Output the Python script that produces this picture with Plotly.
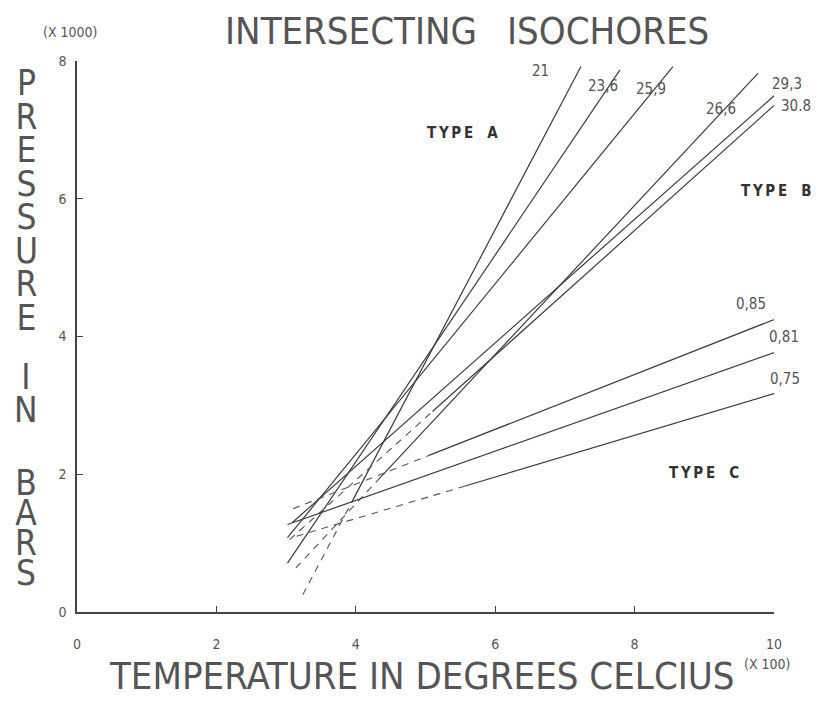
import plotly.graph_objects as go

# ---------------- data ----------------
# temperature in units of 100 degC, pressure in units of 1000 bar
isochore_labels = ["21", "23,6", "25,9", "26,6", "29,3", "30.8", "0,85", "0,81", "0,75"]
# solid part of each isochore (start -> end)
solid_t0 = [3.95, 3.02, 3.02, 4.33, 3.09, 5.10, 5.04, 3.02, 5.57]
solid_p0 = [1.61, 0.71, 1.08, 1.93, 1.30, 2.91, 2.27, 1.27, 1.83]
solid_t1 = [7.23, 7.79, 8.55, 9.77, 10.04, 10.04, 10.01, 10.01, 10.06]
solid_p1 = [7.92, 7.87, 7.92, 7.82, 7.53, 7.39, 4.25, 3.77, 3.19]
# dashed low-temperature extension (ends where the solid part starts)
dash_t0 = [3.24, None, None, 3.14, None, 3.05, 3.10, None, 3.15]
dash_p0 = [0.25, None, None, 0.64, None, 1.05, 1.50, None, 1.10]
# label anchor of each isochore
label_t = [6.65, 7.55, 8.24, 9.24, 10.19, 10.31, 9.67, 10.14, 10.16]
label_p = [7.86, 7.64, 7.60, 7.31, 7.67, 7.34, 4.47, 4.00, 3.38]

type_names = ["TYPE", "TYPE", "TYPE"]
type_letters = ["A", "B", "C"]
type_t = [5.53, 10.03, 9.00]
type_p = [6.96, 6.11, 2.02]

x_ticks = [0, 2, 4, 6, 8, 10]
y_ticks = [0, 2, 4, 6, 8]
x_range = [0, 10]
y_range = [0, 8]

title_words = ["INTERSECTING", "ISOCHORES"]
x_title = "TEMPERATURE IN DEGREES CELCIUS"
y_title_words = ["PRESSURE", "IN", "BARS"]

# ---------------- layout constants (pixels) ----------------
W, H = 818, 703
ML, MR, MT, MB = 77, 44, 61, 91
PW, PH = W - ML - MR, H - MT - MB

def px_to_paper(px, py):
    return (px - ML) / PW, (H - MB - py) / PH

def data_to_paper(t, p):
    return ((t - x_range[0]) / (x_range[1] - x_range[0]),
            (p - y_range[0]) / (y_range[1] - y_range[0]))

LINE_COL = "#3c3c3c"
TEXT_COL = "#555555"
FONT = "DejaVu Sans Condensed, DejaVu Sans, sans-serif"
NB = "\u00a0"
THIN = "\u2009"

fig = go.Figure()

for i, name in enumerate(isochore_labels):
    fig.add_trace(go.Scatter(
        x=[solid_t0[i], solid_t1[i]], y=[solid_p0[i], solid_p1[i]],
        mode="lines", line=dict(color=LINE_COL, width=1.2),
        showlegend=False, hoverinfo="skip", cliponaxis=False))
    if dash_t0[i] is not None:
        fig.add_trace(go.Scatter(
            x=[dash_t0[i], solid_t0[i]], y=[dash_p0[i], solid_p0[i]],
            mode="lines", line=dict(color="#555555", width=1.1, dash="7px,6px"),
            showlegend=False, hoverinfo="skip", cliponaxis=False))

CENTER = dict(xref="paper", yref="paper", showarrow=False,
              xanchor="center", yanchor="middle")

annotations = []
for i, name in enumerate(isochore_labels):
    xp, yp = data_to_paper(label_t[i], label_p[i])
    annotations.append(dict(x=xp, y=yp, text=name,
                            font=dict(family=FONT, size=15, color=TEXT_COL), **CENTER))
for i, name in enumerate(type_names):
    xp, yp = data_to_paper(type_t[i], type_p[i])
    spaced = THIN.join(list(name)) + NB * 3 + type_letters[i]
    annotations.append(dict(x=xp, y=yp, text="<b>" + spaced + "</b>",
                            font=dict(family=FONT, size=15, color="#333333"), **CENTER))

# title words
for word, cx in zip(title_words, [351, 608]):
    xp, yp = px_to_paper(cx, 31)
    annotations.append(dict(x=xp, y=yp, text=word,
                            font=dict(family=FONT, size=38, color=TEXT_COL), **CENTER))

# x-axis title
xp, yp = px_to_paper(422, 676)
annotations.append(dict(x=xp, y=yp, text=x_title,
                        font=dict(family=FONT, size=38, color=TEXT_COL), **CENTER))

# stacked y-axis title: one text per word, letters stacked; the base font
# size sets the line pitch, the inline span sets the glyph size
word_center_y = [200, 394, 528]
word_pitch_font = [25.8, 25.4, 23.2]
for word, cy, pf in zip(y_title_words, word_center_y, word_pitch_font):
    xp, yp = px_to_paper(26, cy)
    stacked = "<br>".join('<span style="font-size:35px">' + ch + "</span>" for ch in word)
    annotations.append(dict(x=xp, y=yp, text=stacked,
                            font=dict(family=FONT, size=pf, color=TEXT_COL), **CENTER))

# multipliers
xp, yp = px_to_paper(70, 32)
annotations.append(dict(x=xp, y=yp, text="(X 1000)",
                        font=dict(family=FONT, size=14, color=TEXT_COL), **CENTER))
xp, yp = px_to_paper(767, 664)
annotations.append(dict(x=xp, y=yp, text="(X 100)",
                        font=dict(family=FONT, size=14, color=TEXT_COL), **CENTER))

fig.update_layout(
    width=W, height=H,
    margin=dict(l=ML, r=MR, t=MT, b=MB, pad=0),
    paper_bgcolor="white", plot_bgcolor="white",
    annotations=annotations,
    showlegend=False,
)
fig.update_xaxes(range=x_range, tickvals=x_ticks, showgrid=False, zeroline=False,
                 showline=True, linecolor="#444444", linewidth=1.5,
                 ticks="inside", ticklen=6, tickcolor="#444444",
                 ticklabelstandoff=18,
                 tickfont=dict(family=FONT, size=14, color=TEXT_COL))
fig.update_yaxes(range=y_range, tickvals=y_ticks, showgrid=False, zeroline=False,
                 showline=True, linecolor="#444444", linewidth=1.5,
                 ticks="inside", ticklen=6, tickcolor="#444444",
                 ticklabelstandoff=6,
                 tickfont=dict(family=FONT, size=14, color=TEXT_COL))

fig.write_html("out.html")
